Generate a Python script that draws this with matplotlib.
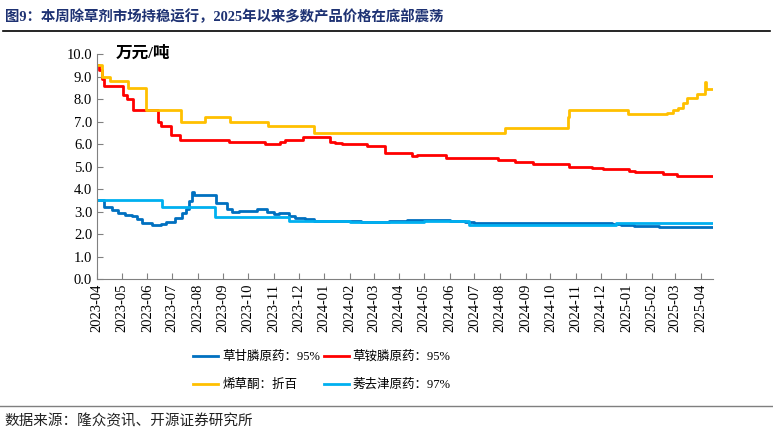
import matplotlib
matplotlib.use("Agg")
import matplotlib.pyplot as plt
import matplotlib.dates as mdates
import pandas as pd
from matplotlib.lines import Line2D

plt.rcParams['font.family'] = ['Liberation Serif', 'Noto Sans CJK SC']

# 草甘膦原药：95%
glyphosate_dates = ["2023-04-01", "2023-04-09", "2023-04-19", "2023-04-27", "2023-05-05",
                    "2023-05-13", "2023-05-19", "2023-05-25", "2023-06-06", "2023-06-18",
                    "2023-06-24", "2023-07-04", "2023-07-13", "2023-07-18", "2023-07-21",
                    "2023-07-25", "2023-07-27", "2023-08-23", "2023-09-02", "2023-09-06",
                    "2023-09-12", "2023-09-20", "2023-10-12", "2023-10-24", "2023-11-01",
                    "2023-11-07", "2023-11-20", "2023-11-27", "2023-12-09", "2023-12-20",
                    "2024-01-15", "2024-02-15", "2024-03-20", "2024-04-10", "2024-05-10",
                    "2024-06-01", "2024-06-20", "2024-07-01", "2024-08-01", "2024-09-15",
                    "2024-11-20", "2024-12-15", "2024-12-25", "2025-01-10", "2025-02-10",
                    "2025-02-20", "2025-04-16"]
glyphosate_vals = [3.5, 3.2, 3.05, 2.95, 2.85,
                   2.8, 2.65, 2.47, 2.4, 2.45,
                   2.55, 2.7, 2.95, 3.1, 3.45,
                   3.88, 3.72, 3.4, 3.4, 3.1,
                   2.98, 3.04, 3.1, 3.0, 2.89,
                   2.93, 2.78, 2.72, 2.65, 2.6,
                   2.57, 2.55, 2.57, 2.62, 2.63,
                   2.6, 2.55, 2.5, 2.48, 2.5,
                   2.5, 2.45, 2.4, 2.36, 2.33,
                   2.3, 2.3]

# 草铵膦原药：95%
glufosinate_dates = ["2023-04-01", "2023-04-04", "2023-04-07", "2023-04-10", "2023-05-03",
                     "2023-05-07", "2023-05-14", "2023-06-14", "2023-06-18", "2023-06-29",
                     "2023-07-11", "2023-09-08", "2023-10-22", "2023-11-08", "2023-11-15",
                     "2023-12-07", "2024-01-08", "2024-01-14", "2024-01-23", "2024-02-22",
                     "2024-03-15", "2024-04-16", "2024-04-23", "2024-05-27", "2024-07-29",
                     "2024-08-19", "2024-09-10", "2024-10-23", "2024-11-20", "2024-12-04",
                     "2025-01-04", "2025-01-12", "2025-02-14", "2025-03-03", "2025-04-16"]
glufosinate_vals = [9.5, 9.3, 8.9, 8.6, 8.2,
                    8.0, 7.5, 7.0, 6.8, 6.4,
                    6.2, 6.1, 6.0, 6.1, 6.2,
                    6.3, 6.1, 6.05, 6.0, 5.9,
                    5.6, 5.45, 5.5, 5.4, 5.3,
                    5.2, 5.1, 5.0, 4.95, 4.87,
                    4.8, 4.74, 4.67, 4.56, 4.56]

# 烯草酮：折百
clethodim_dates = ["2023-04-01", "2023-04-07", "2023-04-17", "2023-05-09", "2023-05-30",
                   "2023-07-12", "2023-08-10", "2023-09-09", "2023-10-25", "2023-12-20",
                   "2024-08-07", "2024-10-22", "2024-10-24", "2025-01-03", "2025-02-19",
                   "2025-02-27", "2025-03-05", "2025-03-10", "2025-03-16", "2025-03-28",
                   "2025-04-06", "2025-04-07", "2025-04-16"]
clethodim_vals = [9.5, 9.0, 8.8, 8.5, 7.5,
                  7.0, 7.2, 7.0, 6.8, 6.5,
                  6.7, 7.2, 7.5, 7.32, 7.39,
                  7.51, 7.61, 7.84, 8.03, 8.22,
                  8.74, 8.43, 8.43]

# 莠去津原药：97%
atrazine_dates = ["2023-04-01", "2023-06-19", "2023-08-22", "2023-11-19", "2024-01-01",
                  "2024-02-01", "2024-05-01", "2024-06-24", "2024-12-20", "2025-04-16"]
atrazine_vals = [3.5, 3.2, 2.75, 2.6, 2.57,
                 2.55, 2.57, 2.4, 2.47, 2.47]

series = [
    ("草甘膦原药：95%", glyphosate_dates, glyphosate_vals, "#0070C0"),
    ("草铵膦原药：95%", glufosinate_dates, glufosinate_vals, "#FF0000"),
    ("烯草酮：折百", clethodim_dates, clethodim_vals, "#FFC000"),
    ("莠去津原药：97%", atrazine_dates, atrazine_vals, "#00B0F0"),
]

fig = plt.figure(figsize=(7.73, 4.36), dpi=100)
ax = fig.add_axes([0.1255, 0.360, 0.797, 0.516])

handles = []
for label, d, v, color in series:
    h, = ax.plot(pd.to_datetime(d), v, drawstyle="steps-post", color=color, lw=2, label=label)
    handles.append(h)

ax.set_xlim(pd.Timestamp("2023-04-01"), pd.Timestamp("2025-04-16"))
ax.set_ylim(0, 10)
ax.set_yticks([i * 1.0 for i in range(11)])
ax.yaxis.set_major_formatter(plt.FormatStrFormatter("%.1f"))
ax.xaxis.set_major_locator(mdates.MonthLocator())
ax.xaxis.set_major_formatter(mdates.DateFormatter("%Y-%m"))
ax.tick_params(axis="x", rotation=90, direction="in", length=4, labelsize=10.5, color="#808080")
ax.tick_params(axis="y", direction="in", length=4, labelsize=10.5, color="#808080")
for s in ["top", "right"]:
    ax.spines[s].set_visible(False)
for s in ["left", "bottom"]:
    ax.spines[s].set_color("#808080")

fig.text(0.149, 0.877, "万元/吨", fontsize=12, fontweight="bold", va="center", ha="left")

# legend fills column by column: reorder so rows read 草甘膦/草铵膦, 烯草酮/莠去津
order = [0, 2, 1, 3]
fig.legend([handles[i] for i in order], [series[i][0] for i in order],
           loc="upper left", bbox_to_anchor=(0.242, 0.21), ncol=2, frameon=False,
           fontsize=9, handlelength=2.0, handletextpad=0.3, columnspacing=0.3,
           labelspacing=1.3, borderpad=0)

# title, rules and source
fig.text(0.006, 0.961, "图9：本周除草剂市场持稳运行，2025年以来多数产品价格在底部震荡",
         fontsize=10.4, fontweight="bold", color="#1e3273", va="center", ha="left")
fig.add_artist(Line2D([0.004, 0.996], [0.929, 0.929], color="black", lw=1.2))
fig.add_artist(Line2D([0.0, 1.0], [0.069, 0.069], color="#7f7f7f", lw=1.0))
fig.text(0.006, 0.034, "数据来源：隆众资讯、开源证券研究所", fontsize=10.5,
         va="center", ha="left", color="#222222")

fig.savefig("out.png", dpi=100)
